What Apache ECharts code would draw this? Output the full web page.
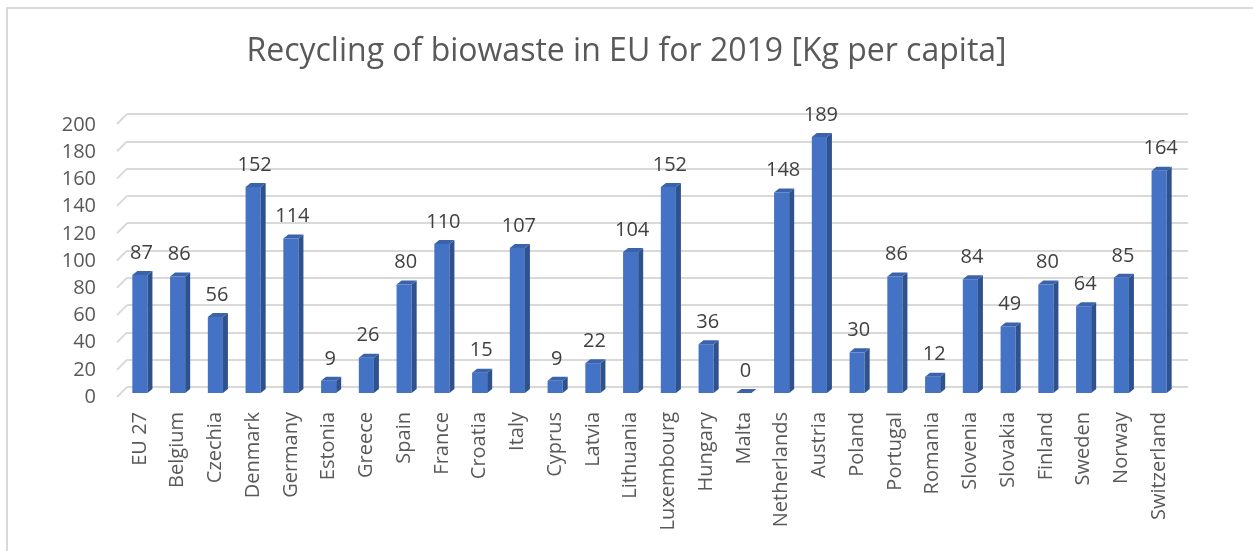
<!DOCTYPE html>
<html>
<head>
<meta charset="utf-8">
<script src="https://cdn.jsdelivr.net/npm/echarts@6/dist/echarts.min.js"></script>
<style>html,body{margin:0;padding:0;background:#fff}#c{width:1253px;height:551px}</style>
</head>
<body>
<div id="c"></div>
<script>
const titleText = 'Recycling of biowaste in EU for 2019 [Kg per capita]';
const categories = ['EU 27','Belgium','Czechia','Denmark','Germany','Estonia','Greece','Spain','France','Croatia','Italy','Cyprus','Latvia','Lithuania','Luxembourg','Hungary','Malta','Netherlands','Austria','Poland','Portugal','Romania','Slovenia','Slovakia','Finland','Sweden','Norway','Switzerland'];
const values = [87,86,56,152,114,9,26,80,110,15,107,9,22,104,152,36,0,148,189,30,86,12,84,49,80,64,85,164];
const yTicks = [0,20,40,60,80,100,120,140,160,180,200];

const FONT = 'Open Sans';
const chart = echarts.init(document.getElementById('c'), null, {renderer:'canvas'});

const FRONT = '#4472C4', SIDE = '#2F528F', TOP = '#3A63AC';

function renderBar(params, api) {
  const idx = api.value(0), v = api.value(1);
  const top = api.coord([idx, v]);
  const base = api.coord([idx, 0]);
  const band = api.size([1, 0])[0];
  const w = band * 0.4;
  const d = 5, r = 4;
  const xl = top[0] - w / 2, xr = top[0] + w / 2;
  const yt = top[1], yb = base[1];
  const children = [];
  if (yb - yt > 0.5) {
    children.push({type:'rect', shape:{x:xl, y:yt, width:w, height:yb-yt}, style:{fill:FRONT}});
    children.push({type:'polygon', shape:{points:[[xr,yt],[xr+d,yt-r],[xr+d,yb-r],[xr,yb]]}, style:{fill:SIDE}});
  }
  children.push({type:'polygon', shape:{points:[[xl,yt],[xr,yt],[xr+d,yt-r],[xl+d,yt-r]]}, style:{fill:TOP}});
  children.push({type:'text', style:{text:String(v), x:top[0]+1.5, y:yt-12, align:'center', verticalAlign:'bottom', fill:'#404040', font:'20px "' + FONT + '"'}});
  return {type:'group', children};
}

function renderDiag(params, api) {
  const v = api.value(1);
  const p = api.coord([0, v]);
  return {type:'line', shape:{x1:p[0], y1:p[1], x2:p[0]-10, y2:p[1]+10}, style:{stroke:'#d9d9d9', lineWidth:2}};
}

const option = {
  backgroundColor:'#fff',
  animation:false,
  title:{text:titleText, left:'center', top:31, textStyle:{fontFamily:FONT, fontSize:32, fontWeight:'normal', color:'#595959'}},
  graphic:[{type:'rect', shape:{x:7, y:8, width:1270, height:570}, style:{fill:'none', stroke:'#d9d9d9', lineWidth:2}, silent:true, z:-10}],
  grid:[
    {left:127, right:65, top:114, bottom:164},
    {left:121, right:75, top:122, bottom:158},
    {left:121, right:75, top:125, bottom:154}
  ],
  xAxis:[
    {type:'value', gridIndex:0, min:0, max:1, show:false},
    {type:'category', gridIndex:1, data:categories, axisLine:{show:false}, axisTick:{show:false},
     axisLabel:{rotate:90, interval:0, margin:19, fontFamily:FONT, fontSize:20, color:'#595959'}},
    {type:'value', gridIndex:2, min:0, max:1, show:false}
  ],
  yAxis:[
    {type:'value', gridIndex:0, min:0, max:200, interval:20, axisLabel:{show:false}, axisLine:{show:false}, axisTick:{show:false},
     splitLine:{show:true, lineStyle:{color:'#d9d9d9', width:2}}},
    {type:'value', gridIndex:1, min:0, max:200, interval:20, show:false},
    {type:'value', gridIndex:2, min:0, max:200, interval:20, axisLine:{show:false}, axisTick:{show:false}, splitLine:{show:false},
     axisLabel:{margin:25, fontFamily:FONT, fontSize:20, color:'#595959'}}
  ],
  series:[
    {type:'custom', xAxisIndex:0, yAxisIndex:0, renderItem:renderDiag, data:yTicks.map(t=>[0,t]), silent:true, z:1},
    {type:'custom', xAxisIndex:1, yAxisIndex:1, renderItem:renderBar, data:values.map((v,i)=>[i,v]), z:5, clip:false}
  ]
};
chart.setOption(option);
</script>
</body>
</html>
